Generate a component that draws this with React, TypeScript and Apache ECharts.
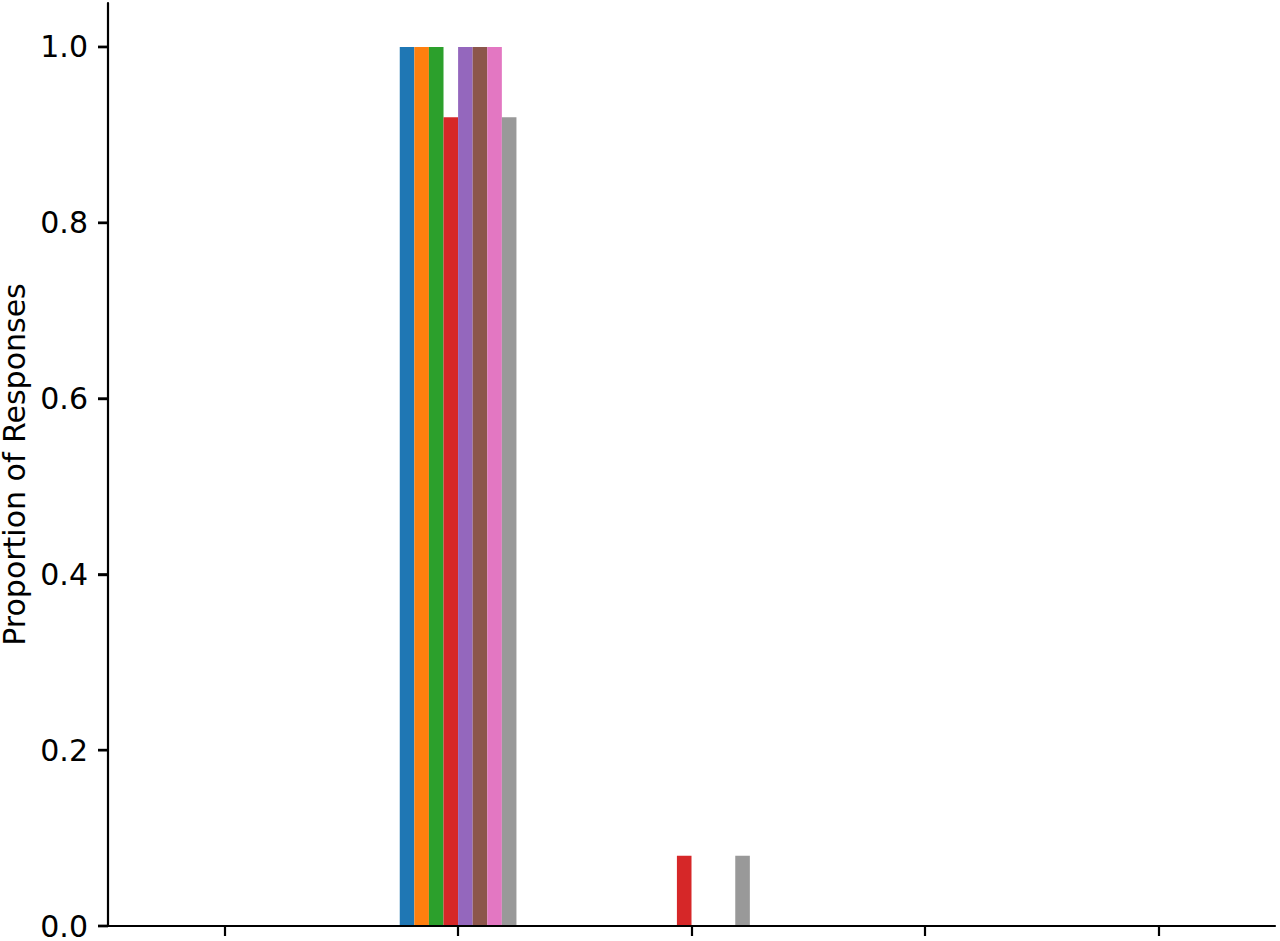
import { useEffect, useRef } from 'react';
import * as echarts from 'echarts';

// 5 response categories (no tick labels shown in the original)
const categories = ['A', 'B', 'C', 'D', 'E'];

// 8 groups, tab10-style colours
const seriesNames = ['S1', 'S2', 'S3', 'S4', 'S5', 'S6', 'S7', 'S8'];
const seriesColors = ['#1f77b4', '#ff7f0e', '#2ca02c', '#d62728', '#9467bd', '#8c564b', '#e377c2', '#999999'];

// proportion of responses per series, one value per category
const values: number[][] = [
  [0, 1.0, 0, 0, 0],
  [0, 1.0, 0, 0, 0],
  [0, 1.0, 0, 0, 0],
  [0, 0.92, 0.08, 0, 0],
  [0, 1.0, 0, 0, 0],
  [0, 1.0, 0, 0, 0],
  [0, 1.0, 0, 0, 0],
  [0, 0.92, 0.08, 0, 0],
];

const yTicks = { min: 0, max: 1.05, interval: 0.2 };
const yTickValues = [0, 0.2, 0.4, 0.6, 0.8, 1.0];

const GRID_LEFT = 108;
const TICK_LEN = 10;

export default function App() {
  const ref = useRef<HTMLDivElement>(null);

  useEffect(() => {
    if (!ref.current) return;
    const chart = echarts.init(ref.current, undefined, { renderer: 'svg' });
    const font = 'DejaVu Sans';
    chart.setOption({
      animation: false,
      textStyle: { fontFamily: font },
      grid: { left: GRID_LEFT, right: 5, top: 3, bottom: 15, containLabel: false, outerBoundsMode: 'none' },
      xAxis: {
        type: 'category',
        data: categories,
        boundaryGap: true,
        z: 10,
        axisLine: { show: true, lineStyle: { color: '#000', width: 2.2 } },
        axisTick: { show: true, alignWithLabel: true, interval: 0, length: TICK_LEN, lineStyle: { color: '#000', width: 2.2 } },
        axisLabel: { show: true, color: 'rgba(0,0,0,0)', fontSize: 1, formatter: () => '' },
        splitLine: { show: false },
      },
      yAxis: {
        type: 'value',
        min: yTicks.min,
        max: yTicks.max,
        interval: yTicks.interval,
        z: 10,
        name: 'Proportion of Responses',
        nameLocation: 'middle',
        nameRotate: 90,
        nameGap: 78,
        nameTextStyle: { fontFamily: font, fontSize: 30, color: '#000' },
        axisLine: { show: true, lineStyle: { color: '#000', width: 2.2 } },
        axisTick: { show: true, length: TICK_LEN, lineStyle: { color: '#000', width: 2.4 } },
        axisLabel: {
          margin: 20,
          fontFamily: font,
          fontSize: 30,
          color: '#000',
          showMaxLabel: false,
          formatter: (v: number) => v.toFixed(1),
        },
        splitLine: { show: false },
      },
      series: seriesNames.map((name, i) => ({
        name,
        type: 'bar',
        data: values[i],
        barWidth: '6.25%',
        barGap: '0%',
        itemStyle: { color: seriesColors[i] },
      })),
    });

    // extra y tick marks on top, positioned through the axis scale
    const marks = yTickValues.map((v) => {
      const y = Number(chart.convertToPixel({ yAxisIndex: 0 }, v));
      return {
        type: 'rect',
        z: 100,
        silent: true,
        shape: { x: GRID_LEFT - TICK_LEN, y: y - 1.2, width: TICK_LEN, height: 2.4 },
        style: { fill: '#000' },
      };
    });
    chart.setOption({ graphic: { elements: marks } });

    return () => chart.dispose();
  }, []);

  return <div ref={ref} style={{ position: 'absolute', left: 0, top: 0, width: 1280, height: 941 }} />;
}
